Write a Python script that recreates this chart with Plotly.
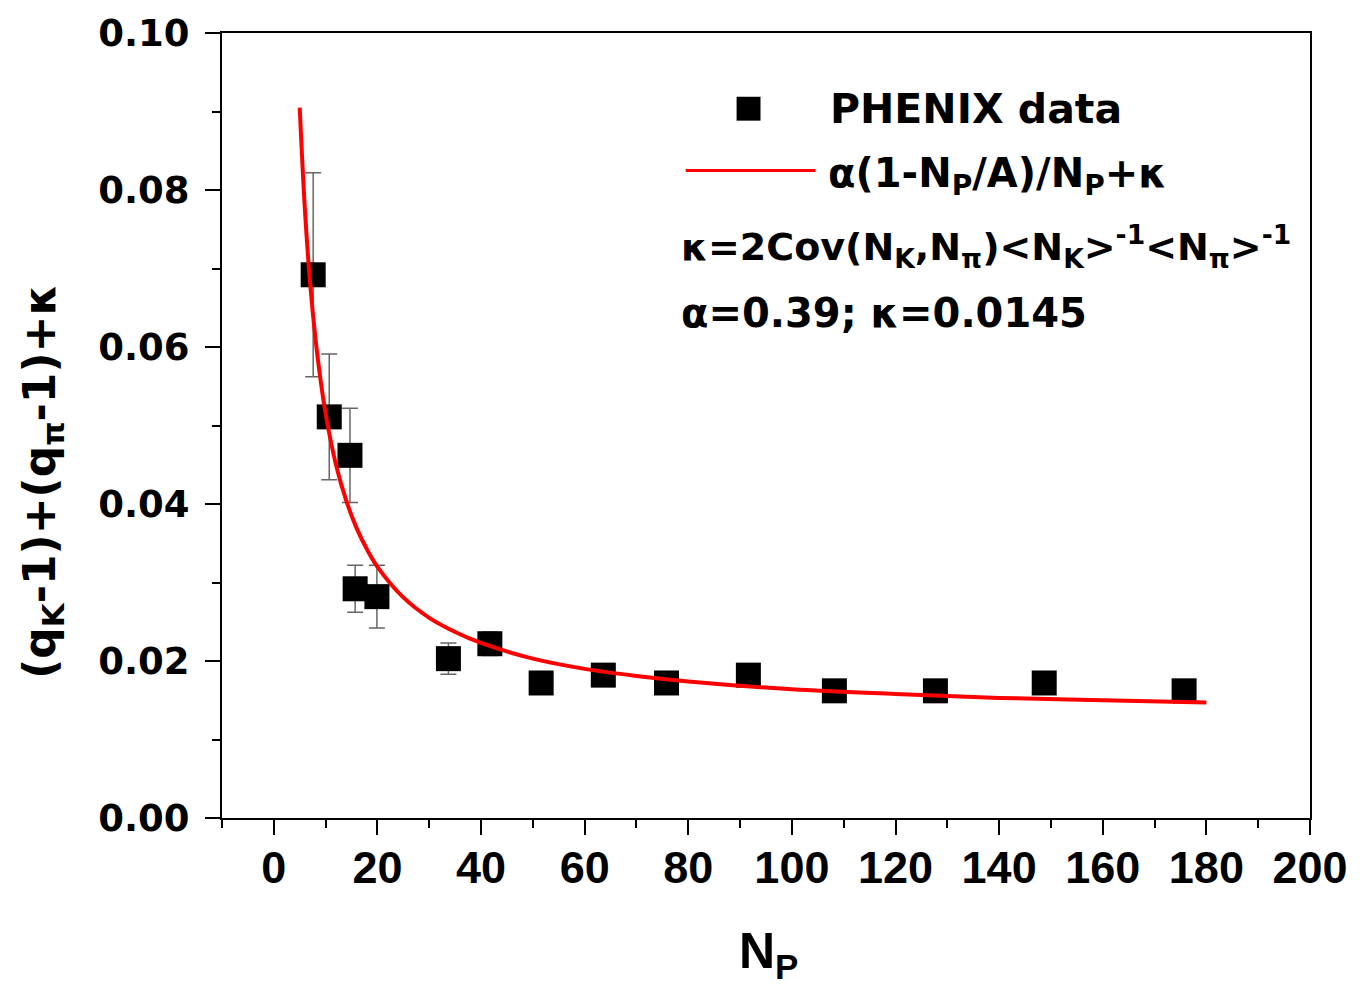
import plotly.graph_objects as go

# ---- data ----
np_data = [7.6, 10.7, 14.7, 15.7, 19.9, 33.7, 41.7, 51.6, 63.6, 75.8, 91.6, 108.2, 127.7, 148.7, 175.7]
q_data = [0.0692, 0.0511, 0.0462, 0.0292, 0.0282, 0.0203, 0.0222, 0.0172, 0.0182, 0.0172, 0.0182, 0.0162, 0.0162, 0.0172, 0.0162]
q_err = [0.013, 0.008, 0.006, 0.003, 0.004, 0.002, 0.0015, 0, 0, 0, 0, 0, 0, 0, 0]

fit_x = [5, 6, 7, 8, 9, 10, 12, 14, 16, 18, 20, 25, 30, 35, 40, 50, 60, 70, 80, 100, 120, 140, 160, 180]
fit_y = [0.0905, 0.0775, 0.0682, 0.0613, 0.0559, 0.0515, 0.0450, 0.0404, 0.0369, 0.0342, 0.0320,
         0.0281, 0.0255, 0.0237, 0.0223, 0.0203, 0.0190, 0.0181, 0.0174, 0.0164, 0.0158, 0.0153,
         0.0150, 0.0147]

x_ticks = [0, 20, 40, 60, 80, 100, 120, 140, 160, 180, 200]
y_ticks = [0.00, 0.02, 0.04, 0.06, 0.08, 0.10]

W, H = 1360, 994
L, R, T, B = 222, 1313, 30, 818


def px(xp):
    return (xp - L) / (R - L)


def py(yp):
    return (B - yp) / (B - T)


fig = go.Figure()
fig.add_trace(go.Scatter(
    x=np_data, y=q_data, mode="markers",
    marker=dict(symbol="square", size=25, color="black"),
    error_y=dict(type="data", array=q_err, visible=True, color="#666666", thickness=1.5, width=8),
    showlegend=False,
))
fig.add_trace(go.Scatter(
    x=fit_x, y=fit_y, mode="lines", line=dict(color="#ff0000", width=4, shape="spline", smoothing=1.0),
    showlegend=False,
))

axis_common = dict(showline=True, linecolor="black", linewidth=2, mirror=True, ticks="outside",
                   ticklen=15, tickwidth=2, tickcolor="black", showgrid=False, zeroline=False)

fig.update_xaxes(range=[-10, 200], tickvals=x_ticks, ticktext=[str(v) for v in x_ticks],
                 tickfont=dict(family="Liberation Sans", size=45, color="black", weight="bold"),
                 minor=dict(ticks="outside", ticklen=8, tickwidth=2, tickcolor="black", dtick=10, tick0=0),
                 ticklabelstandoff=-6, **axis_common)
fig.update_yaxes(range=[0, 0.1], tickvals=y_ticks, ticktext=[f"{v:.2f}" for v in y_ticks],
                 tickfont=dict(family="DejaVu Sans", size=37, color="black", weight="bold"),
                 minor=dict(ticks="outside", ticklen=8, tickwidth=2, tickcolor="black", dtick=0.01, tick0=0),
                 ticklabelstandoff=8, **axis_common)

txt_font = dict(family="DejaVu Sans", size=40, color="black", weight="bold")

annotations = [
    dict(x=px(770), y=py(955), text="N<sub>P</sub>", font=dict(family="Liberation Sans", size=50, color="black", weight="bold")),
    dict(x=px(42), y=py(480), text="(q<sub>K</sub>-1)+(q<sub>π</sub>-1)+κ", textangle=-90, font=dict(family="DejaVu Sans", size=44, color="black", weight="bold")),
    dict(x=px(830), y=py(106), text="PHENIX data", xanchor="left", font=dict(family="DejaVu Sans", size=41, color="black", weight="bold")),
    dict(x=px(828), y=py(174), text="α(1-N<sub>P</sub>/A)/N<sub>P</sub>+κ", xanchor="left", font=txt_font),
    dict(x=px(680), y=py(244), text="κ=2Cov(N<sub>K</sub>,N<sub>π</sub>)&lt;N<sub>K</sub>&gt;<sup>-1</sup>&lt;N<sub>π</sub>&gt;<sup>-1</sup>", xanchor="left", font=dict(family="DejaVu Sans", size=38, color="black", weight="bold")),
    dict(x=px(680), y=py(311), text="α=0.39; κ=0.0145", xanchor="left", font=txt_font),
]
for a in annotations:
    a.update(xref="paper", yref="paper", showarrow=False)
    a.setdefault("xanchor", "center")
    a.setdefault("yanchor", "middle")

shapes = [
    dict(type="rect", xref="paper", yref="paper", x0=px(738), x1=px(762), y0=py(118), y1=py(94),
         fillcolor="black", line=dict(width=0)),
    dict(type="line", xref="paper", yref="paper", x0=px(687), x1=px(817), y0=py(168), y1=py(168),
         line=dict(color="#ff0000", width=3)),
]

fig.update_layout(
    width=W, height=H, margin=dict(l=L, r=W - R, t=T, b=H - B),
    paper_bgcolor="white", plot_bgcolor="white",
    annotations=annotations, shapes=shapes, showlegend=False,
)

fig.write_html("out.html")
